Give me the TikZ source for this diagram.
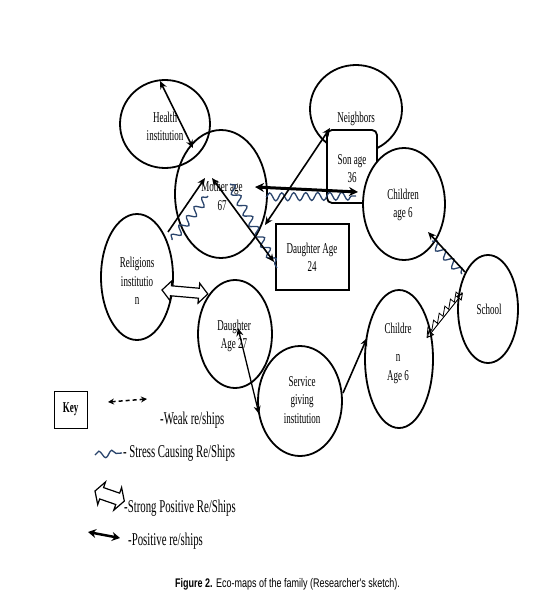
\documentclass[tikz,border=0pt]{standalone}
\usepackage{fontspec}
\newfontfamily\lblfont[FakeStretch=0.6]{Liberation Serif}
\newfontfamily\capfont[FakeStretch=0.72]{Liberation Sans}
\usetikzlibrary{shapes.geometric,arrows.meta,decorations.pathmorphing}
\definecolor{stressblue}{RGB}{42,68,108}
\tikzset{
  circ/.style={draw, ellipse, line width=1.8pt, inner sep=0pt},
  txt/.style={font=\lblfont\fontsize{15}{18.5}\selectfont, align=center, inner sep=0pt},
  keytxt/.style={font=\lblfont\fontsize{18}{20}\selectfont, anchor=west, inner sep=0pt},
  posarrow/.style={line width=1.6pt, {Stealth[length=8pt,width=7pt]}-{Stealth[length=8pt,width=7pt]}},
  onearrow/.style={line width=1.6pt, -{Stealth[length=8pt,width=7pt]}},
  thickarrow/.style={line width=3pt, {Stealth[length=9pt,width=9pt]}-{Stealth[length=9pt,width=9pt]}},
  stress/.style={draw=stressblue, line width=1.3pt, decorate, decoration={snake, amplitude=4pt, segment length=12pt}},
  weakline/.style={line width=0.9pt, {Triangle[open,length=7pt,width=7pt]}-{Triangle[open,length=7pt,width=7pt]}},
  sawline/.style={line width=0.8pt, decorate, decoration={saw, amplitude=5pt, segment length=9pt, raise=1pt}},
  hollow/.style={line width=1.2pt, fill=white, line join=miter},
}
\begin{document}
\begin{tikzpicture}[x=1pt,y=-1pt]
\useasboundingbox (0,0) rectangle (552,599);

% ----- circles -----
\node[circ, minimum width=90, minimum height=88] (health) at (165,124) {};
\node[txt] (health-t) at (165,126.5) {Health\\institution};
\node[circ, minimum width=92, minimum height=128] (mother) at (221,194) {};
\node[txt] (mother-t) at (222,196) {Mother age\\67};
\node[circ, minimum width=92, minimum height=88] (neigh) at (356,109) {};
\node[txt] (neigh-t) at (356,119) {Neighbors};
\node[draw, line width=1.8pt, rounded corners=5pt, fill=white, minimum width=50, minimum height=73, inner sep=0pt] (son) at (352,166.5) {};
\node[txt] (son-t) at (352,168.5) {Son age\\36};
\node[circ, fill=white, minimum width=82, minimum height=112] (child1) at (404,204) {};
\node[txt] (child1-t) at (403,205) {Children\\age 6};
\node[draw, line width=2pt, minimum width=73, minimum height=66, inner sep=0pt] (d24) at (312.5,257) {};
\node[txt] (d24-t) at (312,257.5) {Daughter Age\\24};
\node[circ, minimum width=72, minimum height=126] (relig) at (137,277) {};
\node[txt] (relig-t) at (137,281) {Religions\\institutio\\n};
\node[circ, minimum width=74, minimum height=108] (d27) at (235,334) {};
\node[txt] (d27-t) at (234,336) {Daughter\\Age 27};
\node[circ, minimum width=84, minimum height=110] (serv) at (300,401) {};
\node[txt] (serv-t) at (302,400) {Service\\giving\\institution};
\node[circ, minimum width=68, minimum height=138] (child2) at (399,359) {};
\node[txt] (child2-t) at (398,353) {Childre\\[10pt]n\\Age 6};
\node[circ, minimum width=60, minimum height=108] (school) at (488,309) {};
\node[txt] (school-t) at (489,309) {School};

% ----- connector end points -----
\coordinate (h-a) at (160,81);   \coordinate (m-a) at (193,148);
\coordinate (r-b) at (168,232);  \coordinate (m-b) at (205,178);
\coordinate (m-c) at (212,178);  \coordinate (d-c) at (274,262);
\coordinate (m-d) at (255,187);  \coordinate (s-d) at (358,192);
\coordinate (n-e) at (330,128);  \coordinate (m-e) at (265,225);
\coordinate (c-f) at (428,232);  \coordinate (s-f) at (465,272);
\coordinate (s-g) at (463,293);  \coordinate (c-g) at (427,338);
\coordinate (d-i) at (238,328);  \coordinate (v-i) at (259,414);
\coordinate (v-j) at (343,393);  \coordinate (c-j) at (367,338);

% ----- stress lines -----
\draw[stress] (172,240) -- (208,196);
\draw[stress] (230,184) -- (277,268);
\draw[stress] (266,197) -- (356,196);
\draw[stress] (432,241) -- (462,274);

% ----- positive relationships -----
\draw[posarrow] (h-a) -- (m-a);
\draw[onearrow] (r-b) -- (m-b);
\draw[posarrow] (m-c) -- (d-c);
\draw[thickarrow] (m-d) -- (s-d);
\draw[posarrow] (n-e) -- (m-e);
\draw[onearrow] (s-f) -- (c-f);
\draw[posarrow, line width=1.3pt] (d-i) -- (v-i);
\draw[onearrow] (v-j) -- (c-j);

% ----- school - children (lower) -----
\draw[weakline] (s-g) -- (c-g);
\draw[sawline] (c-g) -- (s-g);

% ----- strong positive: religions - daughter 27 -----
\begin{scope}[shift={(162,290)}, rotate=-5]
  \draw[hollow] (0,0) -- (9,-10) -- (9,-5) -- (37,-5) -- (37,-10) -- (46,0)
     -- (37,10) -- (37,5) -- (9,5) -- (9,10) -- cycle;
\end{scope}

% ----- key -----
\node[draw, line width=0.8pt, minimum width=33, minimum height=37, inner sep=0pt,
      font=\lblfont\bfseries\fontsize{15}{16}\selectfont] (key) at (70.5,409.5) {Key};
\coordinate (kw1) at (108,402); \coordinate (kw2) at (147,399);
\draw[line width=1.5pt, dash pattern=on 4pt off 3pt, {Stealth[length=6pt,width=6pt]}-{Stealth[length=6pt,width=6pt]}] (kw1) -- (kw2);
\node[keytxt] (kw-t) at (160,420) {-Weak re/ships};
\draw[stress, decoration={snake, amplitude=3.5pt, segment length=13pt}] (95,455) -- (122,453);
\node[keytxt] (ks-t) at (123,453) {- Stress Causing Re/Ships};
\begin{scope}[shift={(95,491)}, rotate=-19]
  \draw[hollow] (0,0) -- (7,-12) -- (7,-6) -- (24,-6) -- (24,-12) -- (31,0)
     -- (24,12) -- (24,6) -- (7,6) -- (7,12) -- cycle;
\end{scope}
\node[keytxt] (kh-t) at (124,508) {-Strong Positive Re/Ships};
\coordinate (kp1) at (88,532); \coordinate (kp2) at (120,538);
\draw[line width=2.5pt, {Stealth[length=8pt,width=9pt]}-{Stealth[length=8pt,width=9pt]}] (kp1) -- (kp2);
\node[keytxt] (kp-t) at (128,541) {-Positive re/ships};

% ----- caption -----
\node[font=\capfont\fontsize{12.5}{14}\selectfont, inner sep=0pt] (cap) at (287.5,584)
  {\textbf{Figure 2.} Eco-maps of the family (Researcher's sketch).};
\end{tikzpicture}
\end{document}
